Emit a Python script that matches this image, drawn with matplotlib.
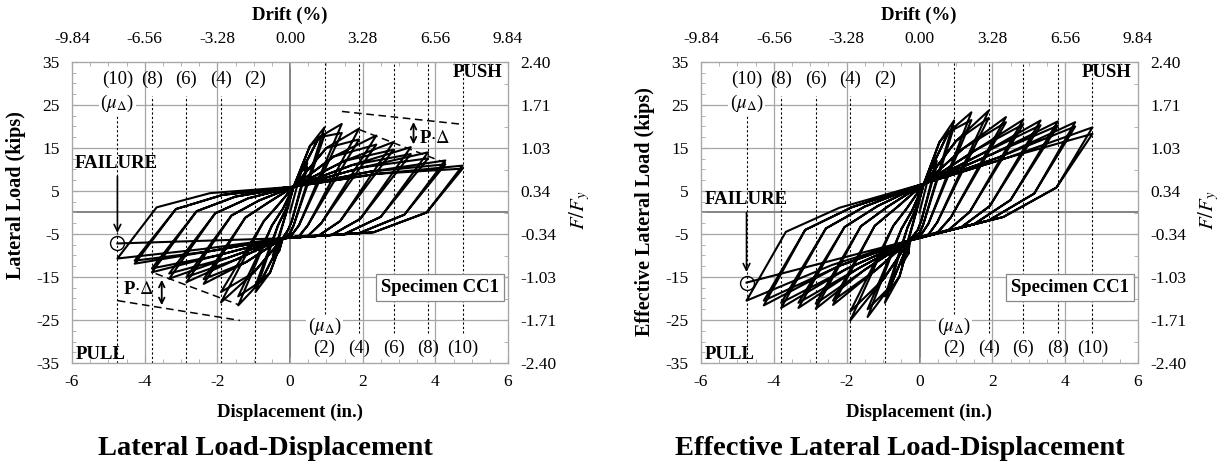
import matplotlib
matplotlib.use('Agg')
import matplotlib.pyplot as plt
from matplotlib.ticker import MultipleLocator

plt.rcParams['font.family'] = ['Liberation Serif', 'DejaVu Serif']
plt.rcParams['mathtext.fontset'] = 'stix'
plt.rcParams['axes.unicode_minus'] = False

# ductility levels mu = 1..10, displacement (in.)
mu_levels = [1, 2, 3, 4, 5, 6, 7, 8, 9, 10]
d_lvl = [0.475, 0.95, 1.425, 1.9, 2.375, 2.85, 3.325, 3.8, 4.275, 4.75]

# loading-branch mid points (in.)
mid_p_x = [0.3, 0.55, 0.8, 1.0, 1.2, 1.5, 1.7, 2.0, 2.2, 2.4]
mid_n_x = [-0.3, -0.55, -0.8, -1.0, -1.2, -1.5, -1.7, -2.0, -2.2, -2.4]
# unloading knee / bend x positions (in.)
knee_r_x = [0.05, 0.1, 0.245, 0.49, 0.86, 1.38, 1.93, 2.5, 3.15, 3.76]
bend_r_x = [-0.05, 0.0, 0.05, 0.25, 0.5, 0.8, 1.15, 1.5, 1.9, 2.3]
knee_l_x = [-0.1, -0.33, -0.495, -0.72, -1.23, -1.61, -2.06, -2.57, -3.14, -3.67]
bend_l_x = [0.0, -0.1, -0.2, -0.35, -0.6, -0.85, -1.15, -1.5, -1.85, -2.2]

# ---- lateral load (kips) ----
lat_push1 = [11.5, 19.8, 20.6, 19.5, 17.9, 16.4, 15.2, 14.0, 12.1, 10.9]
lat_push2 = [10.5, 18.0, 18.5, 17.0, 15.8, 14.6, 13.6, 12.6, 11.2, 10.2]
lat_pull1 = [-11.0, -18.5, -21.6, -20.9, -16.6, -16.2, -15.4, -13.9, -11.9, -10.7]
lat_pull2 = [-10.0, -17.0, -19.5, -18.5, -15.5, -15.0, -14.2, -13.0, -11.2, -7.2]
lat_kr_y = [-2.0, -3.0, -3.0, -3.0, -2.5, -2.0, -1.5, -1.0, -0.5, 0.0]
lat_br_y = [-4.0, -4.8, -5.2, -5.5, -5.4, -5.3, -5.2, -5.0, -4.8, -4.6]
lat_kl_y = [0.0, -3.0, -3.0, -2.0, -1.2, -0.7, -0.2, 0.3, 0.8, 1.2]
lat_bl_y = [3.0, 1.0, 0.8, 1.5, 2.3, 2.8, 3.3, 3.7, 4.1, 4.5]
lat_mp_y = [9.5, 15.5, 17.5, 15.0, 13.0, 12.0, 11.0, 10.5, 9.5, 9.0]
lat_mn_y = [-9.0, -14.0, -16.0, -14.0, -11.5, -11.0, -10.5, -10.0, -9.0, -8.5]
lat_pinch = [(0.1, 6.0), (-0.2, -6.0)]

# ---- effective lateral load (kips) ----
eff_push1 = [12.0, 21.4, 23.3, 23.7, 22.2, 21.6, 21.4, 21.2, 21.0, 19.8]
eff_push2 = [11.0, 20.0, 21.5, 22.0, 21.0, 20.5, 20.3, 20.2, 20.0, 18.3]
eff_pull1 = [-12.0, -21.0, -24.3, -25.1, -21.5, -22.4, -22.2, -22.2, -21.6, -20.5]
eff_pull2 = [-11.0, -19.5, -22.5, -23.0, -20.5, -21.2, -21.0, -21.0, -20.5, -16.3]
eff_kr_y = [-1.9, -2.85, -2.6, -2.25, -1.15, 0.15, 1.5, 2.9, 4.4, 5.8]
eff_br_y = [-4.1, -4.8, -5.1, -5.1, -4.6, -4.05, -3.4, -2.7, -1.85, -1.05]
eff_kl_y = [-0.15, -3.5, -3.8, -3.1, -3.1, -3.2, -3.4, -3.7, -4.05, -4.5]
eff_bl_y = [3.0, 0.85, 0.5, 0.95, 1.35, 1.5, 1.5, 1.4, 1.25, 1.1]
eff_mp_y = [10.0, 16.4, 18.7, 16.6, 14.9, 14.3, 13.6, 13.6, 12.9, 12.7]
eff_mn_y = [-9.5, -14.9, -17.2, -15.6, -13.4, -13.3, -13.1, -13.1, -12.4, -12.2]
eff_pinch = [(0.12, 6.7), (-0.27, -6.5)]

# axis tick labels
x_ticks = [-6, -4, -2, 0, 2, 4, 6]
drift_labels = ['-9.84', '-6.56', '-3.28', '0.00', '3.28', '6.56', '9.84']
y_ticks = [35, 25, 15, 5, -5, -15, -25, -35]
ffy_labels = ['2.40', '1.71', '1.03', '0.34', '-0.34', '-1.03', '-1.71', '-2.40']

GRID = '#a6a6a6'
TICK_FS = 12.5
ANN_FS = 13.5


def loop_path(push1, push2, pull1, pull2, kr_y, br_y, kl_y, bl_y, mp_y, mn_y, pinch):
    hi, lo = pinch
    xs, ys = [0.0], [0.0]
    n = len(d_lvl)
    for i in range(n):
        for c, (fp, fn) in enumerate([(push1[i], pull1[i]), (push2[i], pull2[i])]):
            last = (i == n - 1 and c == 1)
            xs += [mid_p_x[i], d_lvl[i], knee_r_x[i], bend_r_x[i], lo[0]]
            ys += [mp_y[i], fp, kr_y[i], br_y[i], lo[1]]
            if not last:
                xs.append(mid_n_x[i])
                ys.append(mn_y[i])
            xs.append(-d_lvl[i])
            ys.append(fn)
            if last:
                break
            xs += [knee_l_x[i], bend_l_x[i], hi[0]]
            ys += [kl_y[i], bl_y[i], hi[1]]
    return xs, ys


def setup_axes(ax, x0):
    ax.set_xlim(-6, 6)
    ax.set_ylim(-35, 35)
    ax.set_xticks(x_ticks)
    ax.set_yticks(y_ticks)
    ax.xaxis.set_minor_locator(MultipleLocator(0.5))
    ax.yaxis.set_minor_locator(MultipleLocator(2.5))
    ax.tick_params(which='both', direction='in', color=GRID, labelsize=TICK_FS)
    ax.tick_params(axis='x', pad=8)
    ax.tick_params(axis='y', pad=9)
    ax.tick_params(which='major', length=4)
    ax.tick_params(which='minor', length=3)
    for s in ax.spines.values():
        s.set_color(GRID)
    for y in [25, 15, 5, -5, -15, -25]:
        ax.axhline(y, color=GRID, lw=0.9, zorder=0)
    for x in [-4, -2, 2, 4]:
        ax.axvline(x, color=GRID, lw=0.9, zorder=0)
    ax.axhline(0, color='#7a7a7a', lw=1.3, zorder=0)
    ax.axvline(0, color='#7a7a7a', lw=1.3, zorder=0)

    axt = ax.twiny()
    axt.set_xlim(-6, 6)
    axt.set_xticks(x_ticks)
    axt.set_xticklabels(drift_labels)
    axt.xaxis.set_minor_locator(MultipleLocator(0.5))
    axt.tick_params(which='both', direction='in', color=GRID, labelsize=TICK_FS, pad=11)
    axt.tick_params(which='minor', length=3)
    for s in axt.spines.values():
        s.set_color(GRID)

    axr = ax.twinx()
    axr.set_ylim(-35, 35)
    axr.set_yticks(y_ticks)
    axr.set_yticklabels(ffy_labels)
    axr.yaxis.set_minor_locator(MultipleLocator(5))
    axr.tick_params(which='both', direction='in', color=GRID, labelsize=TICK_FS, pad=9)
    axr.tick_params(which='minor', length=3)
    for s in axr.spines.values():
        s.set_color(GRID)

    cx = x0 + 218
    fig.text(cx / 1225, 1 - 15 / 465, 'Drift (%)', ha='center', va='center',
             fontweight='bold', fontsize=13.5)
    fig.text(cx / 1225, 1 - 412 / 465, 'Displacement (in.)', ha='center', va='center',
             fontweight='bold', fontsize=13.5)
    fig.text((x0 + 508) / 1225, 1 - 210 / 465, r'$F/F_y$', rotation=90, ha='center',
             va='center', fontsize=15)


def annotate_levels(ax):
    neg = [-d_lvl[k] for k in (1, 3, 5, 7)]
    ax.vlines(neg, -35, 27, colors='k', linestyles=(0, (2, 2)), lw=0.8, zorder=1)
    ax.vlines(-d_lvl[9], -35, 23, colors='k', linestyles=(0, (2, 2)), lw=0.8, zorder=1)
    ax.vlines(d_lvl[1], -23.5, 35, colors='k', linestyles=(0, (2, 2)), lw=0.8, zorder=1)
    pos = [d_lvl[k] for k in (3, 5, 7, 9)]
    ax.vlines(pos, -28, 35, colors='k', linestyles=(0, (2, 2)), lw=0.8, zorder=1)
    for k in (1, 3, 5, 7, 9):
        lab = '(%d)' % mu_levels[k]
        ax.text(-d_lvl[k], 31, lab, ha='center', va='center', fontsize=ANN_FS)
        ax.text(d_lvl[k], -31.5, lab, ha='center', va='center', fontsize=ANN_FS)
    ax.text(-d_lvl[9], 25.3, r'($\mu_\Delta$)', ha='center', va='center', fontsize=ANN_FS,
            bbox=dict(fc='white', ec='none', pad=1), zorder=2)
    ax.text(d_lvl[1], -26.5, r'($\mu_\Delta$)', ha='center', va='center', fontsize=ANN_FS,
            bbox=dict(fc='white', ec='none', pad=1), zorder=2)
    ax.text(5.15, 32.6, 'PUSH', ha='center', va='center', fontweight='bold', fontsize=ANN_FS)
    ax.text(-5.2, -33.0, 'PULL', ha='center', va='center', fontweight='bold', fontsize=ANN_FS)
    ax.text(4.13, -17.4, 'Specimen CC1', ha='center', va='center', fontweight='bold',
            fontsize=ANN_FS, zorder=4,
            bbox=dict(fc='white', ec='#888888', lw=0.9, boxstyle='square,pad=0.25'))


fig = plt.figure(figsize=(12.25, 4.65), dpi=100)
ax1 = fig.add_axes([72 / 1225, 102 / 465, 436 / 1225, 301 / 465])
ax2 = fig.add_axes([701 / 1225, 102 / 465, 437 / 1225, 301 / 465])

setup_axes(ax1, 72)
setup_axes(ax2, 701)
fig.text(16 / 1225, 1 - 195 / 465, 'Lateral Load (kips)', rotation=90, fontweight='bold',
         fontsize=14.5, ha='center', va='center')
fig.text(645 / 1225, 1 - 212 / 465, 'Effective Lateral Load (kips)', rotation=90,
         fontweight='bold', fontsize=14.5, ha='center', va='center')

# hysteresis loops
x1, y1 = loop_path(lat_push1, lat_push2, lat_pull1, lat_pull2, lat_kr_y, lat_br_y,
                   lat_kl_y, lat_bl_y, lat_mp_y, lat_mn_y, lat_pinch)
ax1.plot(x1, y1, color='k', lw=1.5, zorder=3, solid_joinstyle='round')
x2, y2 = loop_path(eff_push1, eff_push2, eff_pull1, eff_pull2, eff_kr_y, eff_br_y,
                   eff_kl_y, eff_bl_y, eff_mp_y, eff_mn_y, eff_pinch)
ax2.plot(x2, y2, color='k', lw=1.5, zorder=3, solid_joinstyle='round')

for ax in (ax1, ax2):
    annotate_levels(ax)

# failure markers
ax1.plot(-d_lvl[9], lat_pull2[9], 'o', mfc='none', mec='k', ms=10, mew=1.0, zorder=4)
ax1.text(-4.78, 11.5, 'FAILURE', ha='center', va='center', fontweight='bold', fontsize=ANN_FS)
ax1.annotate('', xy=(-d_lvl[9], lat_pull2[9] + 1.8), xytext=(-d_lvl[9], 9.0),
             arrowprops=dict(arrowstyle='->', color='k', lw=1.2, mutation_scale=12))
ax2.plot(-d_lvl[9], eff_pull2[9], 'o', mfc='none', mec='k', ms=10, mew=1.0, zorder=4)
ax2.text(-4.75, 3.1, 'FAILURE', ha='center', va='center', fontweight='bold', fontsize=ANN_FS)
ax2.annotate('', xy=(-d_lvl[9], eff_pull2[9] + 1.8), xytext=(-d_lvl[9], 0.6),
             arrowprops=dict(arrowstyle='->', color='k', lw=1.2, mutation_scale=12))

# P-Delta envelopes
ax1.plot([1.43, 4.75], [23.5, 20.5], color='k', lw=1.1, ls=(0, (5, 3)), zorder=3)
ax1.plot([1.9, 4.35], [19.3, 11.3], color='k', lw=1.1, ls=(0, (5, 3)), zorder=3)
ax1.annotate('', xy=(3.4, 21.7), xytext=(3.4, 15.2),
             arrowprops=dict(arrowstyle='<->', color='k', lw=1.3, mutation_scale=10))
ax1.text(3.55, 17.3, r'P$\cdot\Delta$', ha='left', va='center', fontweight='bold',
         fontsize=ANN_FS)
ax1.plot([-3.7, -1.4], [-14.2, -21.5], color='k', lw=1.1, ls=(0, (5, 3)), zorder=3)
ax1.plot([-4.74, -1.38], [-20.5, -25.1], color='k', lw=1.1, ls=(0, (5, 3)), zorder=3)
ax1.annotate('', xy=(-3.53, -15.0), xytext=(-3.53, -22.2),
             arrowprops=dict(arrowstyle='<->', color='k', lw=1.3, mutation_scale=10))
ax1.text(-3.72, -18.0, r'P$\cdot\Delta$', ha='right', va='center', fontweight='bold',
         fontsize=ANN_FS)

fig.text(265 / 1225, 1 - 448 / 465, 'Lateral Load-Displacement', ha='center', va='center',
         fontweight='bold', fontsize=20.5)
fig.text(900 / 1225, 1 - 448 / 465, 'Effective Lateral Load-Displacement', ha='center',
         va='center', fontweight='bold', fontsize=20.5)

fig.savefig('out.png', dpi=100)
